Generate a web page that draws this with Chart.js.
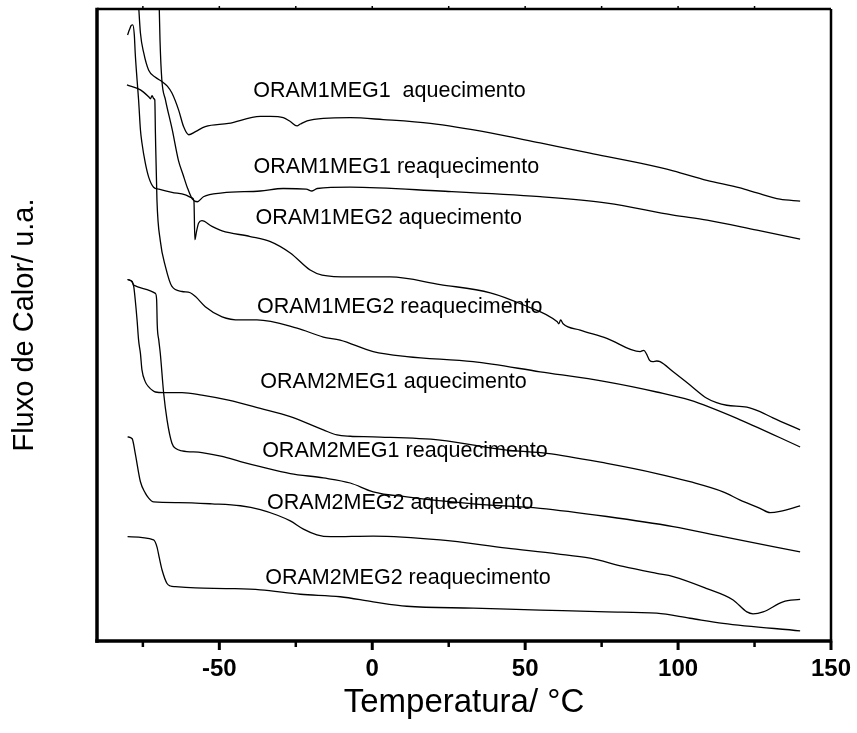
<!DOCTYPE html>
<html>
<head>
<meta charset="utf-8">
<title>DSC</title>
<script src="https://cdn.jsdelivr.net/npm/chart.js@4.4.1/dist/chart.umd.min.js"></script>
<style>
  html, body { margin: 0; padding: 0; background: #fff; }
  #wrap { width: 857px; height: 733px; }
</style>
</head>
<body>
<div id="wrap"><canvas id="dsc" width="857" height="733"></canvas></div>
<script>
// [temperatura °C, fluxo u.a.] for each run
const oram1meg1Aq = [[-76.5,101.4],[-75.8,96.2],[-74.7,93.0],[-73.1,90.3],[-70.9,89.2],[-68.7,88.5],[-67.0,87.8],[-65.5,86.7],[-63.3,84.0],[-61.7,81.4],[-60.0,80.1],[-57.8,80.6],[-54.6,81.4],[-47.0,81.9],[-36.6,83.0],[-33.3,83.0],[-29.1,82.8],[-26.8,82.2],[-24.6,81.5],[-23.5,81.8],[-21.3,82.3],[-16.0,82.7],[-7.2,82.8],[3.6,82.5],[19.0,81.9],[38.6,80.4],[54.9,78.8],[71.2,77.2],[87.6,75.6],[98.4,74.4],[109.4,72.9],[120.3,71.7],[125.8,70.9],[133.3,69.9],[139.9,69.6]];
const oram1meg1Reaq = [[-69.7,101.4],[-69.4,95.1],[-68.8,88.8],[-67.6,85.6],[-65.4,80.9],[-63.4,76.1],[-61.8,73.7],[-60.5,71.8],[-58.8,69.9],[-57.2,69.5],[-55.2,70.3],[-49.0,70.9],[-36.6,71.2],[-29.1,71.6],[-21.6,71.5],[-19.7,71.2],[-18.0,71.6],[-7.2,71.8],[22.2,71.2],[54.9,70.3],[76.8,69.3],[98.4,67.4],[109.5,66.6],[125.8,65.0],[139.9,63.6]];
const oram1meg2Aq = [[-80.0,95.9],[-79.4,96.7],[-78.8,97.4],[-78.3,97.5],[-77.8,95.9],[-77.5,93.0],[-76.9,88.8],[-76.4,85.6],[-75.8,80.9],[-75.3,78.8],[-74.2,75.6],[-73.1,73.4],[-71.5,71.8],[-69.8,71.5],[-65.5,71.0],[-61.1,70.6],[-58.9,70.1],[-58.3,69.6],[-58.0,63.5],[-57.5,64.7],[-56.8,66.1],[-55.7,66.5],[-52.4,65.6],[-49.1,64.9],[-39.9,64.0],[-33.3,63.2],[-26.8,61.4],[-20.3,58.7],[-16.4,57.9],[-7.2,57.6],[5.9,57.6],[22.2,56.4],[38.6,55.1],[49.3,53.2],[60.5,50.5],[61.0,50.2],[61.6,50.8],[62.4,50.2],[68.0,49.2],[76.7,47.9],[87.6,45.8],[88.8,46.0],[89.7,45.4],[90.7,44.4],[91.7,44.2],[93.0,44.3],[94.1,44.2],[98.4,42.6],[103.9,40.5],[109.4,38.4],[112.6,37.7],[115.9,37.3],[122.5,37.0],[126.8,36.3],[131.0,35.3],[139.9,33.4]];
const oram1meg2Reaq = [[-80.2,88.0],[-75.8,87.2],[-73.1,86.1],[-72.5,85.8],[-72.0,86.3],[-71.4,85.8],[-71.1,85.6],[-70.9,80.4],[-70.4,69.8],[-69.3,63.3],[-67.6,59.2],[-65.5,56.1],[-62.2,55.3],[-59.5,55.1],[-57.8,54.5],[-54.6,52.9],[-49.1,51.3],[-43.1,50.8],[-37.7,50.8],[-24.6,49.5],[-16.0,48.1],[-10.5,47.6],[0.3,45.8],[11.3,45.0],[33.0,44.2],[54.9,42.6],[76.7,41.0],[93.0,39.4],[103.9,38.1],[120.3,35.0],[139.9,30.7]];
const oram2meg1Aq = [[-80.0,57.2],[-78.7,56.9],[-78.0,56.1],[-77.5,54.0],[-76.9,50.8],[-76.4,47.6],[-75.8,45.5],[-75.3,42.9],[-74.2,41.0],[-73.1,40.2],[-70.9,39.4],[-68.2,39.3],[-62.2,39.3],[-55.7,38.9],[-47.0,38.1],[-36.6,36.8],[-26.8,35.5],[-16.0,33.4],[-11.5,32.6],[-7.2,32.4],[0.3,32.3],[22.2,31.8],[44.0,30.2],[57.1,29.7],[76.7,28.1],[93.0,26.5],[103.9,25.2],[114.7,23.6],[120.3,22.3],[126.8,21.0],[130.1,20.3],[133.3,20.5],[139.9,21.4]];
const oram2meg1Reaq = [[-80.0,57.2],[-78.5,56.9],[-78.0,56.3],[-70.9,55.0],[-70.5,54.0],[-70.3,50.0],[-69.8,47.6],[-69.3,45.5],[-68.2,39.2],[-67.1,35.0],[-65.5,31.3],[-64.1,30.4],[-62.2,30.1],[-55.7,29.8],[-49.1,29.2],[-43.1,28.4],[-36.6,27.6],[-26.8,26.5],[-16.0,25.8],[-7.2,25.0],[0.3,23.6],[11.3,22.8],[33.0,21.7],[54.9,21.0],[76.7,19.7],[98.4,18.1],[114.7,16.5],[139.9,14.1]];
const oram2meg2Aq = [[-80.0,32.3],[-78.5,32.0],[-77.5,29.7],[-75.8,25.2],[-74.2,23.4],[-73.1,22.6],[-71.5,22.0],[-63.3,21.9],[-52.4,21.7],[-43.1,21.4],[-36.6,20.8],[-31.0,19.9],[-26.8,19.0],[-22.5,17.7],[-18.1,16.8],[-13.7,16.5],[0.3,16.6],[22.2,16.0],[44.0,14.7],[60.4,13.8],[71.2,13.1],[82.0,11.8],[93.0,10.7],[98.4,10.2],[109.4,8.3],[118.0,6.5],[122.5,4.6],[124.5,4.3],[127.8,4.6],[134.3,6.2],[139.9,6.6]];
const oram2meg2Reaq = [[-80.0,16.5],[-71.5,16.0],[-70.4,14.9],[-69.6,13.1],[-68.7,11.2],[-67.1,9.1],[-66.0,8.7],[-64.4,8.6],[-57.8,8.4],[-47.0,8.3],[-36.6,8.1],[-23.5,7.4],[-10.5,7.0],[0.3,6.2],[11.3,5.5],[33.0,5.2],[54.9,4.9],[76.7,4.6],[93.0,4.4],[103.9,3.6],[114.7,2.8],[139.9,1.6]];

const runs = [oram1meg1Aq, oram1meg1Reaq, oram1meg2Aq, oram1meg2Reaq, oram2meg1Aq, oram2meg1Reaq, oram2meg2Aq, oram2meg2Reaq];
const runNames = ['ORAM1MEG1  aquecimento', 'ORAM1MEG1 reaquecimento', 'ORAM1MEG2 aquecimento', 'ORAM1MEG2 reaquecimento',
                  'ORAM2MEG1 aquecimento', 'ORAM2MEG1 reaquecimento', 'ORAM2MEG2 aquecimento', 'ORAM2MEG2 reaquecimento'];

const xTicks = [-75, -50, -25, 0, 25, 50, 75, 100, 125, 150];
const xLabels = [-50, 0, 50, 100, 150];

// left end of each run name, in axis units
const namePos = [[-38.9, 87.0], [-38.8, 75.0], [-38.2, 66.9], [-37.7, 52.9], [-36.6, 41.0], [-36.0, 30.0], [-34.4, 21.9], [-35.0, 10.0]];

const FONT = '"Liberation Sans", Arial, Helvetica, sans-serif';

// box, ticks and run names
const frame = {
  id: 'frame',
  afterDatasetsDraw(chart) {
    const { ctx, chartArea: a } = chart;
    const x = chart.scales.x, y = chart.scales.y;
    ctx.save();
    ctx.fillStyle = '#000';
    ctx.font = '21.5px ' + FONT;
    ctx.textAlign = 'left';
    ctx.textBaseline = 'middle';
    runNames.forEach((n, i) => {
      ctx.fillText(n, x.getPixelForValue(namePos[i][0]), y.getPixelForValue(namePos[i][1]));
    });

    ctx.strokeStyle = '#000';
    const seg = (x1, y1, x2, y2, w) => {
      ctx.lineWidth = w;
      ctx.beginPath();
      ctx.moveTo(x1, y1);
      ctx.lineTo(x2, y2);
      ctx.stroke();
    };
    seg(a.left, a.top, a.right, a.top, 2.5);
    seg(a.right, a.top, a.right, a.bottom, 2.5);
    seg(a.left, a.top - 1.2, a.left, a.bottom + 1.7, 3.5);
    seg(a.left - 1.7, a.bottom, a.right + 1.2, a.bottom, 3.5);
    xTicks.forEach(v => {
      const px = x.getPixelForValue(v);
      const major = xLabels.includes(v);
      seg(px, a.bottom, px, a.bottom + (major ? 9 : 6), major ? 3 : 2.5);
      if (v < 150) seg(px, a.top, px, a.top - 3, 1.5);
    });
    ctx.restore();
  }
};

new Chart(document.getElementById('dsc'), {
  type: 'line',
  data: {
    datasets: runs.map((r, i) => ({
      label: runNames[i],
      data: r.map(p => ({ x: p[0], y: p[1] })),
      borderColor: '#000',
      borderWidth: 1.3,
      pointRadius: 0,
      fill: false,
      cubicInterpolationMode: 'monotone'
    }))
  },
  options: {
    responsive: false,
    animation: false,
    devicePixelRatio: 1,
    layout: { padding: { top: 9, right: 26, left: 0, bottom: 0 } },
    plugins: { legend: { display: false }, tooltip: { enabled: false } },
    scales: {
      x: {
        type: 'linear',
        min: -90,
        max: 150,
        afterBuildTicks: s => { s.ticks = xTicks.map(v => ({ value: v })); },
        afterFit: s => {
          s.height = 92;
          s.paddingLeft = 0;
          s.paddingRight = 0;
        },
        grid: { display: false, drawTicks: false },
        border: { display: false },
        ticks: {
          padding: 14,
          color: '#000',
          autoSkip: false,
          maxRotation: 0,
          font: { family: FONT, size: 24, weight: 'bold' },
          callback: v => xLabels.includes(v) ? String(v) : ''
        },
        title: {
          display: true,
          text: 'Temperatura/ °C',
          color: '#000',
          font: { family: FONT, size: 33 },
          padding: { top: 0, bottom: 10 }
        }
      },
      y: {
        min: 0,
        max: 100,
        afterFit: s => { s.width = 97; },
        grid: { display: false, drawTicks: false },
        border: { display: false },
        ticks: { display: false },
        title: {
          display: true,
          text: 'Fluxo de Calor/ u.a.',
          color: '#000',
          font: { family: FONT, size: 29 },
          padding: { top: 8, bottom: 0 }
        }
      }
    }
  },
  plugins: [frame]
});
</script>
</body>
</html>
